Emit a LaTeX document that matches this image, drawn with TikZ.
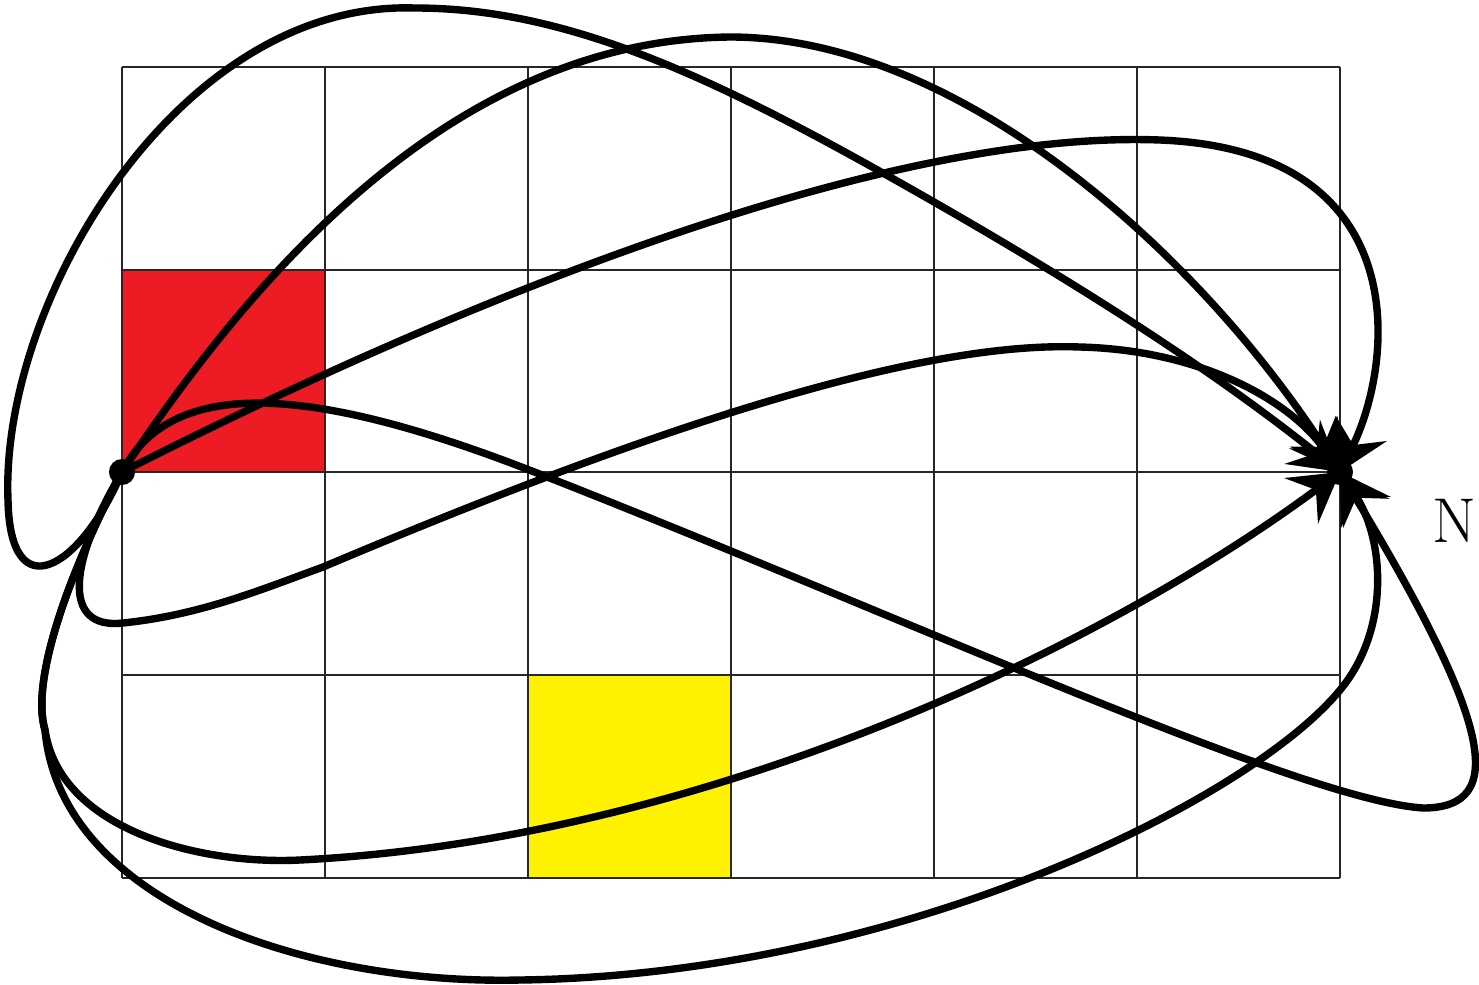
\documentclass[tikz,border=0pt]{standalone}
\usetikzlibrary{arrows.meta}
\definecolor{redsq}{RGB}{237,28,36}
\definecolor{yelsq}{RGB}{255,242,0}
\begin{document}
\begin{tikzpicture}[x=0.01cm,y=-0.01cm,
  gridline/.style={line width=0.7pt, black!85},
  walk/.style={line width=2.1pt, line join=round,
    -{Stealth[length=0.48cm,width=0.56cm,inset=0.18cm]}},
  dot/.style={circle, fill=black, inner sep=0pt, minimum size=0.26cm},
  lbl/.style={anchor=east, inner sep=0pt, font=\fontsize{18}{21}\selectfont}]
\useasboundingbox (0,0) rectangle (1479,984);
% coloured cells
\fill[redsq] (122,270) rectangle (325,472);
\fill[yelsq] (528,675) rectangle (731,878);
% grid
\foreach \x in {122,325,528,731,934,1137,1340}
  \draw[gridline] (\x,67) -- (\x,878);
\foreach \y in {67,270,472,675,878}
  \draw[gridline] (122,\y) -- (1340,\y);
% end points
\node[dot] (S) at (122,472) {};
\node[dot] (N) at (1340,472) {};
\node[lbl] (Nlabel) at (1477,521) {N};
% walks
\draw[walk] (S.center) .. controls (80,570) and (10,610) .. (8,500)
  .. controls (0,300) and (180,0) .. (415,8)
  .. controls (560,8) and (700,70) .. (890,177)
  .. controls (1050,267) and (1200,360) .. (N.center);
\draw[walk] (S.center) .. controls (250,280) and (450,40) .. (730,37)
  .. controls (960,37) and (1200,255) .. (N.center);
\draw[walk] (S.center) .. controls (500,280) and (900,130) .. (1160,140)
  .. controls (1415,150) and (1395,360) .. (N.center);
\draw[walk] (S.center) .. controls (170,380) and (300,380) .. (537,473)
  .. controls (900,615) and (1300,800) .. (1423,808)
  .. controls (1510,808) and (1490,720) .. (N.center);
\draw[walk] (S.center) .. controls (70,560) and (60,630) .. (123,623)
  .. controls (200,615) and (260,590) .. (323,567)
  .. controls (600,450) and (900,340) .. (1080,347)
  .. controls (1200,350) and (1290,400) .. (N.center);
\draw[walk] (S.center) .. controls (70,570) and (30,680) .. (45,730)
  .. controls (60,830) and (200,865) .. (300,860)
  .. controls (700,840) and (1100,650) .. (N.center);
\draw[walk] (S.center) .. controls (70,570) and (30,680) .. (45,730)
  .. controls (60,900) and (300,985) .. (520,980)
  .. controls (900,975) and (1250,800) .. (1340,690)
  .. controls (1390,630) and (1385,540) .. (N.center);
\end{tikzpicture}
\end{document}
